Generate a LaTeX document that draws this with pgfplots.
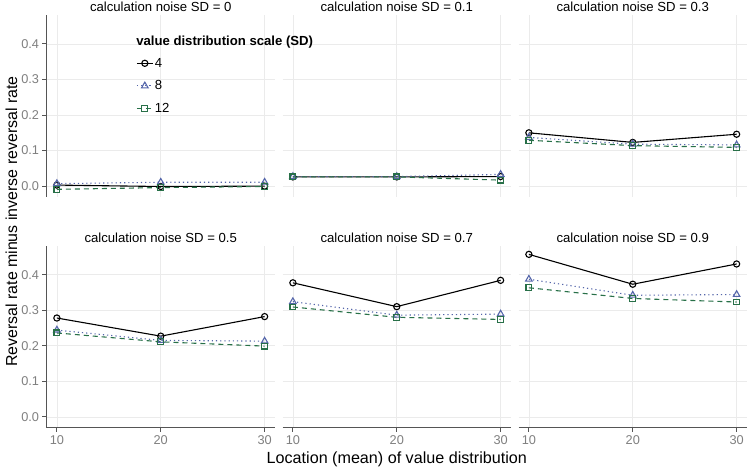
\documentclass[border=0pt]{standalone}
\usepackage{pgfplots}
\pgfplotsset{compat=1.18}
\usepackage{fontspec}
\setmainfont{Liberation Sans}
\definecolor{cblue}{RGB}{85,102,170}
\definecolor{cgreen}{RGB}{40,112,72}
\definecolor{axgray}{RGB}{85,85,85}
\definecolor{tickgray}{RGB}{127,127,127}
\definecolor{gridgray}{RGB}{235,235,235}
\pgfplotsset{
  panel/.style={scale only axis, width=228.5bp, height=181.5bp,
    xmin=9, xmax=31, ymin=-0.0305, ymax=0.48,
    axis x line=bottom, axis y line=left,
    axis line style={-, axgray, line width=1.1bp},
    xtick={10,20,30}, ytick={0,0.1,0.2,0.3,0.4},
    grid=major, major grid style={gridgray, line width=0.6bp},
    tick align=outside, major tick length=4bp,
    tick style={axgray, line width=1bp},
    /pgf/number format/assume math mode=true,
    ticklabel style={font=\fontsize{12.8}{12.8}\selectfont, text=tickgray},
    yticklabel style={/pgf/number format/fixed, /pgf/number format/fixed zerofill, /pgf/number format/precision=1},
    title style={font=\fontsize{13.2}{13.2}\selectfont, anchor=base, at={(0.5,1)}, yshift=-2.3bp, inner sep=0pt},
  },
  noy/.style={y axis line style={draw=none}, yticklabels={}, ytick style={draw=none}},
  nox/.style={x axis line style={draw=none}, xticklabels={}, xtick style={draw=none}},
  s4/.style={black, line width=1.1bp, mark=o, mark size=3.1bp, mark options={solid}},
  s8/.style={cblue, line width=1.1bp, dash pattern=on 1.2bp off 3bp, mark=triangle, mark size=3.8bp, mark options={solid}},
  s12/.style={cgreen, line width=1.1bp, dash pattern=on 5bp off 4bp, mark=square, mark size=2.9bp, mark options={solid}},
}
\begin{document}
\begin{tikzpicture}
\useasboundingbox (0bp,0bp) rectangle (750bp,468bp);
% top row
\begin{axis}[panel, nox, clip=false, at={(46.5bp,271bp)}, anchor=south west, title={calculation noise SD = 0},
  legend style={at={(0.392,0.775)}, anchor=north west, draw=none, fill=none, inner sep=0pt,
    row sep=9bp, font=\fontsize{13.2}{13.2}\selectfont, nodes={inner sep=1.5bp}},
  legend cell align=left,
  legend image code/.code={\draw[mark repeat=2,mark phase=2] plot coordinates {(0bp,0bp) (8bp,0bp) (16bp,0bp)};}]
\addplot[s4] coordinates {(10,0.003) (20,-0.001) (30,0.000)};
\addlegendentry{4}
\addplot[s8] coordinates {(10,0.007) (20,0.011) (30,0.011)};
\addlegendentry{8}
\addplot[s12] coordinates {(10,-0.009) (20,-0.004) (30,-0.001)};
\addlegendentry{12}
\coordinate (legtitle) at (rel axis cs:0.392,0.837);
\end{axis}
\begin{axis}[panel, nox, noy, at={(282.5bp,271bp)}, anchor=south west, title={calculation noise SD = 0.1}]
\addplot[s4] coordinates {(10,0.026) (20,0.026) (30,0.027)};
\addplot[s8] coordinates {(10,0.027) (20,0.027) (30,0.033)};
\addplot[s12] coordinates {(10,0.026) (20,0.026) (30,0.017)};
\end{axis}
\begin{axis}[panel, nox, noy, at={(518.5bp,271bp)}, anchor=south west, title={calculation noise SD = 0.3}]
\addplot[s4] coordinates {(10,0.150) (20,0.123) (30,0.146)};
\addplot[s8] coordinates {(10,0.137) (20,0.118) (30,0.116)};
\addplot[s12] coordinates {(10,0.129) (20,0.114) (30,0.109)};
\end{axis}
% bottom row
\begin{axis}[panel, at={(46.5bp,40.3bp)}, anchor=south west, title={calculation noise SD = 0.5}]
\addplot[s4] coordinates {(10,0.278) (20,0.227) (30,0.282)};
\addplot[s8] coordinates {(10,0.244) (20,0.215) (30,0.213)};
\addplot[s12] coordinates {(10,0.236) (20,0.211) (30,0.199)};
\end{axis}
\begin{axis}[panel, noy, at={(282.5bp,40.3bp)}, anchor=south west, title={calculation noise SD = 0.7}]
\addplot[s4] coordinates {(10,0.377) (20,0.310) (30,0.384)};
\addplot[s8] coordinates {(10,0.324) (20,0.286) (30,0.289)};
\addplot[s12] coordinates {(10,0.309) (20,0.280) (30,0.274)};
\end{axis}
\begin{axis}[panel, noy, at={(518.5bp,40.3bp)}, anchor=south west, title={calculation noise SD = 0.9}]
\addplot[s4] coordinates {(10,0.457) (20,0.373) (30,0.430)};
\addplot[s8] coordinates {(10,0.387) (20,0.342) (30,0.344)};
\addplot[s12] coordinates {(10,0.363) (20,0.333) (30,0.323)};
\end{axis}
\node[anchor=base west, inner sep=0pt, font=\bfseries\fontsize{13.2}{13.2}\selectfont] at (legtitle) {value distribution scale (SD)};
\node[rotate=90, font=\fontsize{16}{16}\selectfont] at (11.5bp,246.4bp) {Reversal rate minus inverse reversal rate};
\node[anchor=base, inner sep=0pt, font=\fontsize{16.2}{16.2}\selectfont] at (396.8bp,4.5bp) {Location (mean) of value distribution};
\end{tikzpicture}
\end{document}
